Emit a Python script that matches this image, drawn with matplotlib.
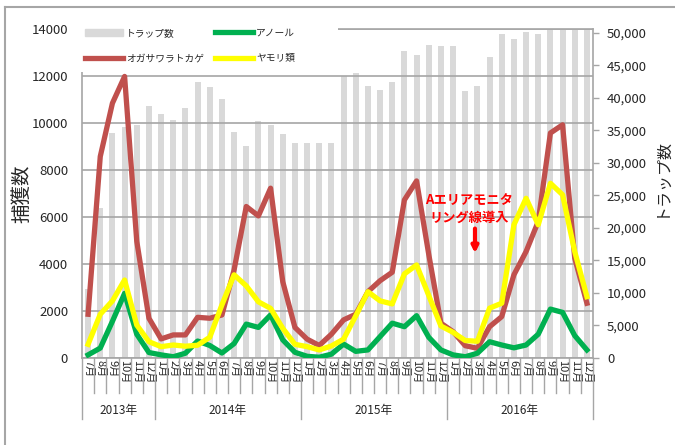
import numpy as np
import matplotlib
matplotlib.use('Agg')
import matplotlib.pyplot as plt
from matplotlib.lines import Line2D
from matplotlib.patches import Patch, Rectangle

plt.rcParams['font.family'] = ['Noto Sans CJK JP', 'DejaVu Sans']

# data
years = ['2013年', '2014年', '2015年', '2016年']
year_months = [list(range(7, 13)), list(range(1, 13)), list(range(1, 13)), list(range(1, 13))]
month_labels = [f'{m}月' for ms in year_months for m in ms]

traps = [10650, 23000, 34570, 35590, 35850, 38780,
         37500, 36620, 38420, 42380, 41600, 39860, 34720, 32610, 36400, 35850, 34510, 33070,
         33070, 33070, 33070, 43410, 43830, 41870, 41250, 42380, 47160, 46650, 48190, 48040,
         48040, 41100, 41870, 46240, 49890, 49120, 50090, 49890, 51000, 50400, 50400, 51000]
ogasawara = [1850, 8570, 10840, 11980, 4960, 1680,
             800, 970, 970, 1720, 1680, 1820, 3740, 6440, 6040, 7220, 3240, 1290,
             790, 520, 1000, 1610, 1850, 2810, 3280, 3640, 6720, 7530, 4400, 1470,
             1110, 510, 400, 1320, 1750, 3530, 4520, 5800, 9570, 9920, 4240, 2320]
anole = [120, 410, 1550, 2740, 1000, 220,
         120, 40, 190, 710, 520, 200, 600, 1430, 1290, 1820, 760, 230,
         60, 20, 150, 580, 270, 330, 900, 1470, 1320, 1790, 870, 330,
         120, 40, 190, 680, 540, 420, 540, 1000, 2070, 1930, 940, 330]
gecko = [570, 1850, 2420, 3310, 1390, 680,
         470, 540, 490, 530, 870, 2250, 3530, 3060, 2380, 2100, 1250, 570,
         470, 330, 500, 790, 1780, 2810, 2420, 2290, 3570, 3950, 2650, 1350,
         1080, 730, 700, 2110, 2320, 5660, 6790, 5660, 7430, 6940, 4520, 2600]

note_text = 'Aエリアモニタ\nリング線導入'

gray = '#a6a6a6'
txt = '#262626'
c_red, c_green, c_yellow, c_bar = '#c0504d', '#00b050', '#ffff00', '#d9d9d9'

x = np.arange(len(month_labels))

fig = plt.figure(figsize=(6.75, 4.45), dpi=100)
ax = fig.add_axes([0.1215, 0.1962, 0.7570, 0.7386])
ax2 = ax.twinx()
ax.set_zorder(ax2.get_zorder() + 1)
ax.patch.set_visible(False)

# trap counts (right axis)
ax2.bar(x, traps, width=0.5, color=c_bar, zorder=1)
ax2.set_ylim(0, 50600)
rticks = list(range(0, 50001, 5000))
ax2.set_yticks(rticks)
ax2.set_yticklabels([f'{v:,}' for v in rticks])
ax2.tick_params(axis='y', length=4, width=1, color=gray, pad=6, labelsize=9.5, labelcolor=txt)
for s in ['left', 'top', 'bottom']:
    ax2.spines[s].set_visible(False)
ax2.spines['right'].set_color(gray)
ax2.spines['right'].set_linewidth(1.2)

# captures (left axis)
l_red, = ax.plot(x, ogasawara, color=c_red, lw=3.8, zorder=3)
l_green, = ax.plot(x, anole, color=c_green, lw=3.8, zorder=3)
l_yel, = ax.plot(x, gecko, color=c_yellow, lw=3.8, zorder=3)

ax.set_xlim(-0.5, len(x) - 0.5)
ax.set_ylim(0, 14000)
ax.set_yticks(range(0, 14001, 2000))
ax.tick_params(axis='y', length=0, pad=10, labelsize=9.5, labelcolor=txt)
ax.grid(axis='y', color=gray, lw=1.2)
ax.set_axisbelow(True)
for s in ['left', 'top', 'bottom']:
    ax.spines[s].set_color(gray)
    ax.spines[s].set_linewidth(1.2)
ax.spines['right'].set_visible(False)

ax.set_xticks(x)
ax.set_xticklabels(month_labels, rotation=-90, fontsize=8, color=txt)
ax.tick_params(axis='x', length=0, pad=2)

# category separators and year labels
xt = ax.get_xaxis_transform()
bounds = np.cumsum([0] + [len(m) for m in year_months])
for k in range(len(x) + 1):
    yend = -0.187 if k in bounds else -0.1075
    ax.plot([k - 0.5, k - 0.5], [0, yend], transform=xt, clip_on=False, color=gray, lw=1)
for i, yr in enumerate(years):
    ax.text((bounds[i] + bounds[i + 1] - 1) / 2, -0.162, yr, transform=xt,
            ha='center', va='center', fontsize=8.5, color=txt)

ax.set_ylabel('捕獲数', fontsize=14, color=txt)
ax.yaxis.set_label_coords(-0.098, 0.5)
ax2.set_ylabel('トラップ数', fontsize=11.5, color=txt)
ax2.yaxis.set_label_coords(1.117, 0.55)

# annotation
ax.text(31.3, 6340, note_text, color='red', fontsize=9.5, fontweight='bold',
        ha='center', va='center', linespacing=1.35, zorder=4)
ax.annotate('', xy=(31.8, 4450), xytext=(31.8, 5500),
            arrowprops=dict(arrowstyle='-|>', color='red', lw=3, mutation_scale=9,
                            shrinkA=0, shrinkB=0), zorder=4)

# white legend area (covers top of the plot like the original)
ax.add_patch(Rectangle((79 / 675, 1 - 72 / 445), 259 / 675, 54 / 445, transform=fig.transFigure,
                       facecolor='white', edgecolor='none', clip_on=False, zorder=4.5))
handles = [Patch(color=c_bar), l_red, l_green, l_yel]
labels = ['トラップ数', 'オガサワラトカゲ', 'アノール', 'ヤモリ類']
leg = ax.legend(handles, labels, ncol=2, loc='upper left', bbox_to_anchor=(81 / 675, 1 - 24 / 445),
                bbox_transform=fig.transFigure, fontsize=7, frameon=False, handlelength=3.9,
                handletextpad=0.3, columnspacing=1.2, labelspacing=1.6, borderpad=0.4,
                borderaxespad=0)
leg.set_zorder(5)
for t in leg.get_texts():
    t.set_color(txt)

# outer frame
fig.add_artist(Line2D([5 / 675, 5 / 675], [0, 1 - 7 / 445], transform=fig.transFigure, color=gray, lw=1.5))
fig.add_artist(Line2D([5 / 675, 1], [1 - 7 / 445, 1 - 7 / 445], transform=fig.transFigure, color=gray, lw=1.5))

fig.savefig('out.png', dpi=100)
